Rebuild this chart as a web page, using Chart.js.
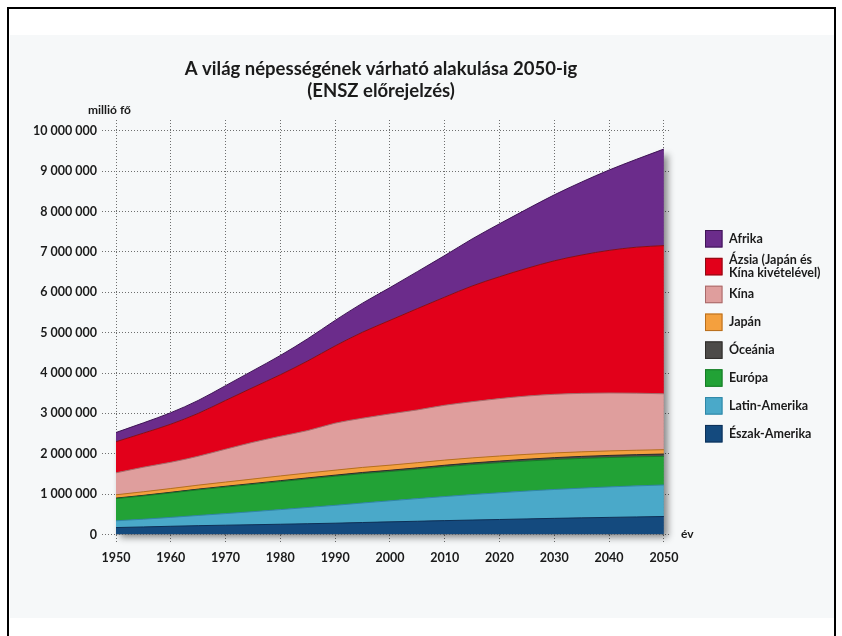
<!DOCTYPE html>
<html>
<head>
<meta charset="utf-8">
<script src="https://cdn.jsdelivr.net/npm/chart.js@4.4.1/dist/chart.umd.min.js"></script>
<style>
  html, body { margin: 0; padding: 0; background: #ffffff; }
  #wrap { position: relative; width: 842px; height: 636px; }
  canvas { display: block; }
</style>
</head>
<body>
<div id="wrap"><canvas id="c" width="842" height="636"></canvas></div>
<script>
// ---- Data (thousand persons) ----
const years = [1950,1955,1960,1965,1970,1975,1980,1985,1990,1995,2000,2005,2010,2015,2020,2025,2030,2035,2040,2045,2050];

const northAmerica = [172000,187000,204000,219000,231000,242000,254000,267000,280000,297000,313000,328000,344000,358000,372000,386000,400000,412000,424000,435000,446000];
const latinAmerica = [168000,192000,220000,253000,287000,324000,363000,403000,443000,484000,522000,561000,597000,632000,662000,691000,716000,737000,755000,770000,782000];
const europe       = [549000,577000,606000,635000,657000,677000,694000,708000,721000,727000,726000,729000,738000,743000,744000,743000,741000,736000,728000,719000,709000];
const oceania      = [13000,14000,16000,18000,20000,21000,23000,25000,27000,29000,31000,34000,37000,39000,42000,45000,47000,50000,52000,54000,57000];
const japan        = [82000,89000,93000,98000,104000,111000,117000,121000,123000,125000,126000,127000,127000,126000,124000,121000,117000,113000,112000,110000,108000];
const china        = [544000,609000,651000,716000,815000,910000,984000,1052000,1165000,1220000,1270000,1308000,1360000,1393000,1423000,1445000,1453000,1449000,1435000,1413000,1385000];
const asiaOther    = [770000,843000,943000,1061000,1208000,1357000,1523000,1724000,1914000,2130000,2318000,2510000,2678000,2866000,3019000,3164000,3307000,3428000,3533000,3617000,3671000];
const africa       = [229000,255000,285000,321000,366000,418000,478000,551000,632000,720000,811000,916000,1031000,1166000,1312000,1467000,1634000,1809000,1991000,2178000,2393000];

const seriesNames = ['Észak-Amerika','Latin-Amerika','Európa','Óceánia','Japán','Kína','Ázsia (Japán és Kína kivételével)','Afrika'];
const legendLines = [['Észak-Amerika'],['Latin-Amerika'],['Európa'],['Óceánia'],['Japán'],['Kína'],['Ázsia (Japán és','Kína kivételével)'],['Afrika']];
const seriesData = [northAmerica, latinAmerica, europe, oceania, japan, china, asiaOther, africa];
const fillColors   = ['#144a7e','#4aa9c9','#22a236','#4d4b49','#f4a03e','#df9e9d','#e2001a','#6b2c8b'];
const borderColors = ['#0d3158','#2f86a6','#167a26','#2e2c2a','#b86f1e','#a86a6a','#8a0d14','#3f1556'];

const xTicks = [1950,1960,1970,1980,1990,2000,2010,2020,2030,2040,2050];
const yTicks = [0,1000000,2000000,3000000,4000000,5000000,6000000,7000000,8000000,9000000,10000000];

const titleLines = ['A világ népességének várható alakulása 2050-ig', '(ENSZ előrejelzés)'];
const yUnitLabel = 'millió fő';
const xUnitLabel = 'év';

const FONT = 'Lato, "Open Sans", sans-serif';
const TEXT = '#1b1b1b';
const GRID = 'rgba(95,95,95,0.9)';

function fmt(v) { return String(v).replace(/\B(?=(\d{3})+(?!\d))/g, ' '); }

const datasets = seriesData.map((arr, i) => ({
  label: seriesNames[i],
  data: years.map((y, k) => ({ x: y, y: arr[k] })),
  backgroundColor: fillColors[i],
  borderColor: borderColors[i],
  borderWidth: 1,
  pointRadius: 0,
  fill: i === 0 ? 'origin' : '-1',
  cubicInterpolationMode: 'monotone'
}));

const decor = {
  id: 'decor',
  beforeDraw(chart) {
    const ctx = chart.ctx;
    ctx.save();
    ctx.fillStyle = '#ffffff';
    ctx.fillRect(0, 0, chart.width, chart.height);
    ctx.fillStyle = '#f6f8f9';
    ctx.fillRect(10, 35, 824, 583);
    ctx.strokeStyle = '#000000';
    ctx.lineWidth = 2;
    ctx.beginPath();
    ctx.moveTo(8, 636); ctx.lineTo(8, 8); ctx.lineTo(835, 8); ctx.lineTo(835, 636);
    ctx.stroke();
    ctx.restore();
  },
  beforeDatasetsDraw(chart) {
    // soft drop shadow under the whole stacked area
    const top = chart.getDatasetMeta(seriesData.length - 1).data;
    if (!top || !top.length) return;
    const base = chart.scales.y.getPixelForValue(0);
    const ctx = chart.ctx;
    ctx.save();
    ctx.shadowColor = 'rgba(0,0,0,0.45)';
    ctx.shadowBlur = 7;
    ctx.shadowOffsetX = 4;
    ctx.shadowOffsetY = 3;
    ctx.fillStyle = '#888888';
    ctx.beginPath();
    ctx.moveTo(top[0].x, base);
    top.forEach(p => ctx.lineTo(p.x, p.y + 2));
    ctx.lineTo(top[top.length - 1].x, base);
    ctx.closePath();
    ctx.fill();
    ctx.restore();
  },
  afterDraw(chart) {
    const ctx = chart.ctx;
    ctx.save();
    ctx.fillStyle = TEXT;
    ctx.textAlign = 'center';
    ctx.textBaseline = 'alphabetic';
    ctx.font = 'bold 18.5px ' + FONT;
    ctx.fillText(titleLines[0], 381, 75);
    ctx.fillText(titleLines[1], 381, 97);

    ctx.textAlign = 'left';
    ctx.textBaseline = 'middle';
    ctx.font = 'bold 12px ' + FONT;
    ctx.fillText(yUnitLabel, 88, 110);
    ctx.fillText(xUnitLabel, 681, chart.scales.y.getPixelForValue(0));

    // legend (top item = last dataset)
    const bx = 705, by0 = 230, step = 27.85, bs = 17.5;
    ctx.font = 'bold 12.5px ' + FONT;
    for (let j = 0; j < seriesData.length; j++) {
      const i = seriesData.length - 1 - j;
      const y = by0 + j * step;
      ctx.fillStyle = fillColors[i];
      ctx.fillRect(bx, y, bs, bs);
      ctx.strokeStyle = borderColors[i];
      ctx.lineWidth = 1;
      ctx.strokeRect(bx + 0.5, y + 0.5, bs - 1, bs - 1);
      ctx.fillStyle = TEXT;
      const lines = legendLines[i];
      const lh = 12.5;
      const cy = y + bs / 2;
      lines.forEach((t, k) => {
        ctx.fillText(t, 729, cy + (k - (lines.length - 1) / 2) * lh);
      });
    }
    ctx.restore();
  }
};

new Chart(document.getElementById('c'), {
  type: 'line',
  data: { datasets },
  options: {
    responsive: false,
    animation: false,
    devicePixelRatio: 1,
    layout: { padding: { top: 120, left: 0, right: 171, bottom: 0 } },
    plugins: { legend: { display: false }, tooltip: { enabled: false }, title: { display: false } },
    scales: {
      x: {
        type: 'linear',
        min: 1950,
        max: 2051.3,
        afterBuildTicks: s => { s.ticks = xTicks.map(v => ({ value: v })); },
        afterFit: s => { s.height = 101.5; },
        grid: { color: GRID, lineWidth: 1, tickLength: 9.5, tickBorderDash: [1, 2], tickColor: GRID, drawOnChartArea: true },
        border: { display: false, dash: [1, 2] },
        ticks: { color: TEXT, font: { family: FONT, weight: 'bold', size: 12.5 }, padding: 6, maxRotation: 0, autoSkip: false, callback: v => String(v) }
      },
      y: {
        stacked: true,
        min: 0,
        max: 10270000,
        afterBuildTicks: s => { s.ticks = yTicks.map(v => ({ value: v })); },
        afterFit: s => { s.width = 116; },
        grid: { color: GRID, lineWidth: 1, tickLength: 14, tickBorderDash: [1, 2], tickColor: GRID },
        border: { display: false, dash: [1, 2] },
        ticks: { color: TEXT, font: { family: FONT, weight: 'bold', size: 12.5 }, padding: 5, autoSkip: false, callback: v => fmt(v) }
      }
    }
  },
  plugins: [decor]
});
</script>
</body>
</html>
